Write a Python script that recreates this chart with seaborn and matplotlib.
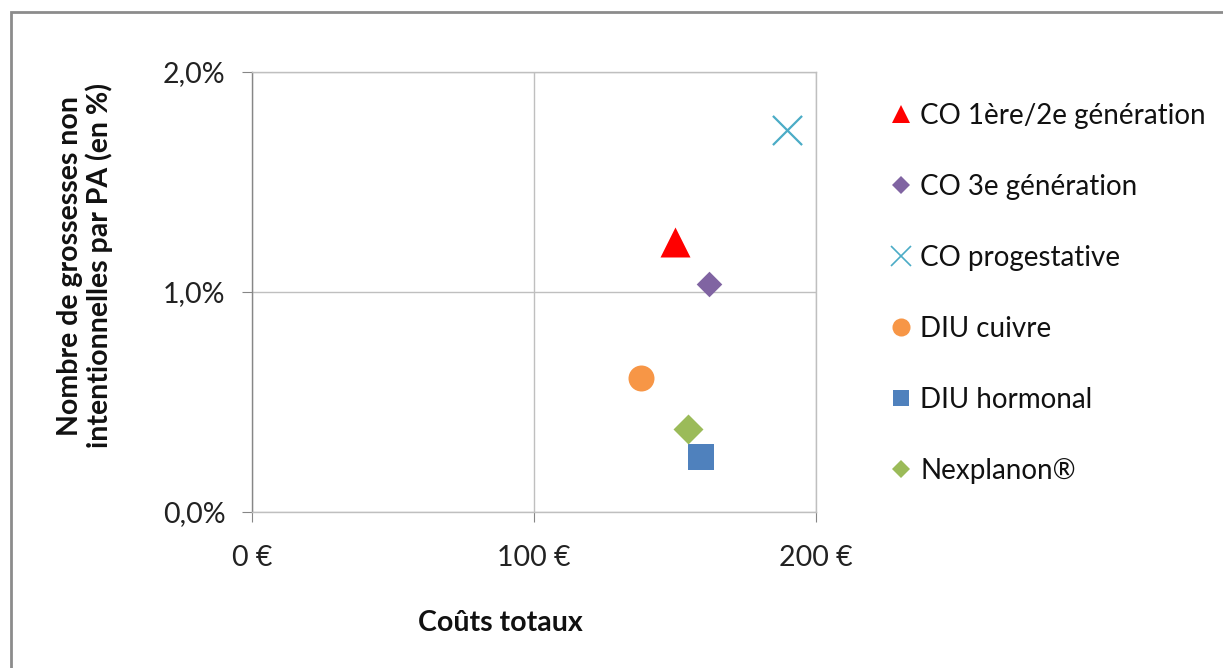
import pandas as pd
import seaborn as sns
import matplotlib.pyplot as plt
from matplotlib.lines import Line2D
from matplotlib.patches import Rectangle
from matplotlib.ticker import FuncFormatter

# data
methods = ['CO 1ère/2e génération', 'CO 3e génération', 'CO progestative',
           'DIU cuivre', 'DIU hormonal', 'Nexplanon®']
couts = [150.0, 162.1, 189.8, 137.8, 159.2, 154.5]
grossesses = [1.227, 1.035, 1.736, 0.608, 0.250, 0.377]

colors = ['#FF0000', '#8064A2', '#4BACC6', '#F79646', '#4F81BD', '#9BBB59']
markers = ['^', 'D', 'x', 'o', 's', 'D']
sizes = [466, 170, 440, 350, 350, 233]
leg_ms = [13, 9, 14, 13, 12, 9]

df = pd.DataFrame({'method': methods, 'cout': couts, 'taux': grossesses})

sns.set_style('white')
plt.rcParams['font.family'] = ['Lato', 'DejaVu Sans']
fs = 20.5

fig = plt.figure(figsize=(12.23, 6.68), dpi=100)
ax = fig.add_axes([252 / 1223, 156 / 668, 564 / 1223, 440 / 668])

for i, m in enumerate(methods):
    sns.scatterplot(
        data=df[df['method'] == m],
        x='cout', y='taux',
        marker=markers[i],
        color=colors[i],
        s=sizes[i],
        linewidth=1.6 if markers[i] == 'x' else 0,
        ax=ax,
        legend=False,
        zorder=3
    )

ax.set_xlim(0, 200)
ax.set_ylim(0, 2.0)
ax.set_xticks([0, 100, 200])
ax.set_yticks([0, 1, 2])
ax.xaxis.set_major_formatter(FuncFormatter(lambda v, p: f'{v:.0f} €'))
ax.yaxis.set_major_formatter(FuncFormatter(lambda v, p: f'{v:.1f}%'.replace('.', ',')))
ax.grid(True, color='#BFBFBF', linewidth=1)
ax.set_xlabel('')
ax.set_ylabel('')
for s in ax.spines.values():
    s.set_color('#BFBFBF')
    s.set_linewidth(1)
ax.spines['left'].set_color('#868686')
ax.tick_params(axis='both', direction='out', length=7, color='#868686',
               labelsize=fs, labelcolor='#222222', left=True, bottom=True)
ax.tick_params(axis='x', pad=17)
ax.tick_params(axis='y', pad=12)

fig.text(500 / 1223, 1 - 623 / 668, 'Coûts totaux', ha='center', va='center',
         fontsize=fs, fontweight='bold', color='#111111')
fig.text(85 / 1223, 1 - 266 / 668,
         'Nombre de grossesses non\nintentionnelles par PA (en %)',
         ha='center', va='center', rotation=90, fontsize=fs,
         fontweight='bold', color='#111111', linespacing=1.1)

handles = [Line2D([], [], linestyle='', marker=markers[i], color=colors[i],
                  markersize=leg_ms[i], markeredgewidth=1.2 if markers[i] == 'x' else 0)
           for i in range(len(methods))]
fig.legend(handles, methods, loc='upper left', bbox_to_anchor=(876 / 1223, 1 - 92 / 668),
           frameon=False, fontsize=20, labelspacing=1.62, handlelength=1.0,
           handletextpad=0.2, borderaxespad=0, labelcolor='#111111')

fig.patches.append(Rectangle((11 / 1223, -0.05), 1.2, 1.05 + (668 - 12) / 668 - 1.0,
                             transform=fig.transFigure, fill=False,
                             edgecolor='#8C8C8C', linewidth=2, figure=fig))

fig.savefig('out.png', dpi=100)
